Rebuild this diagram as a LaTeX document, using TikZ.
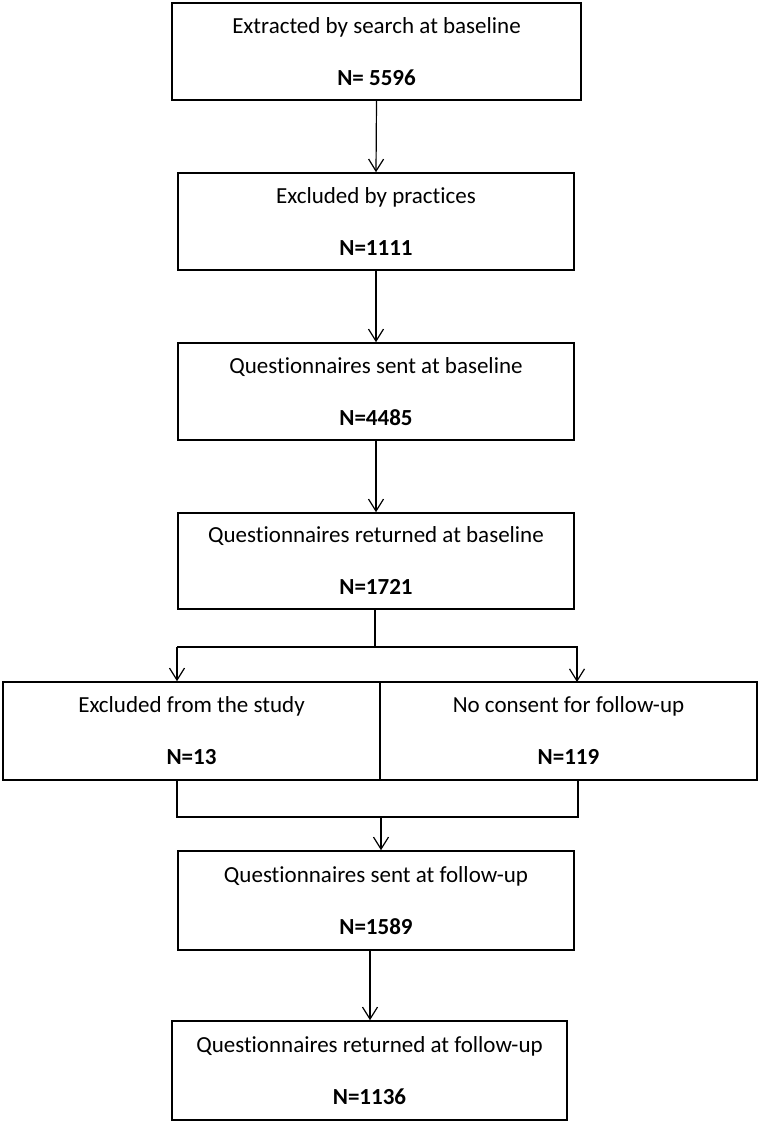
\documentclass[tikz,border=0pt]{standalone}
\usepackage{fontspec}
\setmainfont{Carlito}[Ligatures=NoCommon]
\usetikzlibrary{arrows.meta}
\tikzset{
  box/.style={draw=black, line width=1.6pt, rectangle, inner sep=0pt, align=center,
    font=\fontsize{23}{28}\selectfont, minimum height=97pt},
  conn/.style={draw=black, line width=1.2pt},
  arr/.style={conn, -{Straight Barb[length=12pt,width=15pt,line width=1.2pt]}}
}
\newcommand{\twolines}[2]{#1\\[24pt]\textbf{#2}}
\begin{document}
\begin{tikzpicture}[x=1pt,y=-1pt]
\useasboundingbox[fill=white] (0,0) rectangle (760,1123);
\node[box, minimum width=409pt] (b1) at (376.5,51.5) {\twolines{Extracted by search at baseline}{N= 5596}};
\node[box, minimum width=396pt] (b2) at (376,221.5) {\twolines{Excluded by practices}{N=1111}};
\node[box, minimum width=396pt] (b3) at (376,391.5) {\twolines{Questionnaires sent at baseline}{N=4485}};
\node[box, minimum width=396pt, minimum height=96pt] (b4) at (376,561) {\twolines{Questionnaires returned at baseline}{N=1721}};
\node[box, minimum width=377pt, minimum height=98pt] (b5l) at (191.5,731) {\twolines{Excluded from the study}{N=13}};
\node[box, minimum width=377pt, minimum height=98pt] (b5r) at (568.5,731) {\twolines{No consent for follow-up}{N=119}};
\node[box, minimum width=396pt, minimum height=99pt] (b6) at (376,900.5) {\twolines{Questionnaires sent at follow-up}{N=1589}};
\node[box, minimum width=395pt, minimum height=99pt] (b7) at (369.5,1070.5) {\twolines{Questionnaires returned at follow-up}{N=1136}};

\draw[arr] (b1.south) -- (b2.north);
\draw[arr] (b2.south) -- (b3.north);
\draw[arr] (b3.south) -- (b4.north);

\coordinate (brc) at (375,647);
\coordinate (brl) at (177,647);
\coordinate (brr) at (578,647);
\draw[conn] (brc |- b4.south) -- (brc);
\draw[conn] (brl) -- (brr);
\draw[arr] (brl) -- (brl |- b5l.north);
\draw[arr] (577,647) -- (577,682);

\coordinate (jl) at (177,817);
\coordinate (jr) at (578,817);
\coordinate (jc) at (381,817);
\draw[conn] (jl |- b5l.south) -- (jl) -- (jr) -- (jr |- b5r.south);
\draw[arr] (jc) -- (jc |- b6.north);

\coordinate (a7) at (370,0);
\draw[arr] (a7 |- b6.south) -- (a7 |- b7.north);
\end{tikzpicture}
\end{document}
